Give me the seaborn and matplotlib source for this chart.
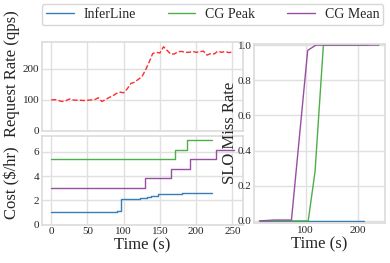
import numpy as np
import pandas as pd
import matplotlib
matplotlib.use('Agg')
import matplotlib.pyplot as plt
import seaborn as sns

# リクエストレート (qps)
rate_time = list(range(0, 255, 5))
rate_qps = [99, 100, 97, 94, 96, 102, 99, 98, 98, 97, 98, 99, 100, 106, 94, 100, 107, 112, 120, 124,
            122, 135, 152, 156, 165, 173, 195, 220, 248, 252, 250, 270, 258, 246, 247, 254, 255, 252,
            252, 255, 252, 254, 256, 243, 248, 247, 256, 252, 255, 251, 253]

# コスト ($/hr)
il_cost_time = [0, 89, 91, 95, 96, 123, 132, 137, 148, 181, 222]
il_cost = [1.0, 1.05, 1.1, 1.15, 2.15, 2.2, 2.3, 2.4, 2.5, 2.6, 2.6]
peak_cost_time = [0, 171, 188, 222]
peak_cost = [5.4, 6.15, 6.95, 6.95]
mean_cost_time = [0, 130, 165, 192, 228, 252]
mean_cost = [3.05, 3.85, 4.6, 5.4, 6.15, 6.15]

# SLO違反率
il_slo_time = [12, 60, 110, 160, 212]
il_slo = [0.0, 0.0, 0.0, 0.0, 0.0]
peak_slo_time = [12, 60, 105, 118, 134, 180, 220]
peak_slo = [0.0, 0.0, 0.0, 0.28, 1.0, 1.0, 1.0]
mean_slo_time = [12, 40, 73, 104, 120, 180, 240]
mean_slo = [0.0, 0.005, 0.005, 0.97, 1.0, 1.0, 1.0]

labels = ['InferLine', 'CG Peak', 'CG Mean']
colors = ['#377eb8', '#4daf4a', '#984ea3']

sns.set_theme(style='whitegrid')
plt.rcParams['font.family'] = ['Liberation Serif', 'DejaVu Serif']
plt.rcParams['axes.edgecolor'] = '#dddddd'
plt.rcParams['grid.color'] = '#e0e0e0'

fig = plt.figure(figsize=(3.9, 2.63), dpi=100)
ax_rate = fig.add_axes([0.108, 0.503, 0.515, 0.337])
ax_cost = fig.add_axes([0.108, 0.146, 0.515, 0.336], sharex=ax_rate)
ax_slo = fig.add_axes([0.652, 0.152, 0.335, 0.682])

# リクエストレート
sns.lineplot(x=rate_time, y=rate_qps, ax=ax_rate, color='#ff2a2a', linestyle='--', linewidth=1.0)
ax_rate.set_ylim(0, 285)
ax_rate.set_yticks([0, 100, 200])
ax_rate.set_ylabel('Request Rate (qps)', fontsize=12)
ax_rate.yaxis.set_label_coords(-0.11, 0.64)
plt.setp(ax_rate.get_xticklabels(), visible=False)

# コスト
cost_sets = [(il_cost_time, il_cost), (peak_cost_time, peak_cost), (mean_cost_time, mean_cost)]
for (t, c), lab, col in zip(cost_sets, labels, colors):
    sns.lineplot(x=t, y=c, ax=ax_cost, color=col, drawstyle='steps-post', linewidth=1.0, label=lab)
ax_cost.set_ylim(0, 7.3)
ax_cost.set_yticks([0, 2, 4, 6])
ax_cost.set_xticks([0, 50, 100, 150, 200, 250])
ax_cost.set_ylabel('Cost ($/hr)', fontsize=12)
ax_cost.yaxis.set_label_coords(-0.11, 0.47)
ax_cost.set_xlabel('Time (s)', fontsize=12, labelpad=1)
ax_cost.get_legend().remove()

# SLO違反率
slo_sets = [(il_slo_time, il_slo), (peak_slo_time, peak_slo), (mean_slo_time, mean_slo)]
for (t, s), col in zip(slo_sets, colors):
    sns.lineplot(x=t, y=s, ax=ax_slo, color=col, linewidth=1.0)
ax_slo.set_ylim(-0.012, 1.008)
ax_slo.set_xlim(2, 251.5)
ax_slo.set_xticks([100, 200])
ax_slo.set_yticks([0.0, 0.2, 0.4, 0.6, 0.8, 1.0])
ax_slo.set_ylabel('SLO Miss Rate', fontsize=12, labelpad=0)
ax_slo.set_xlabel('Time (s)', fontsize=12, labelpad=1)

for ax in [ax_rate, ax_cost, ax_slo]:
    ax.tick_params(labelsize=8, pad=2, length=0)

handles, _ = ax_cost.get_legend_handles_labels()
fig.legend(handles, labels, loc='upper center', ncol=3, fontsize=10, frameon=True,
           bbox_to_anchor=(0.545, 0.995), columnspacing=2.3, handlelength=2.0,
           handletextpad=0.7, edgecolor='#cccccc', borderpad=0.3, borderaxespad=0.2)

fig.savefig('out.png', dpi=100)
